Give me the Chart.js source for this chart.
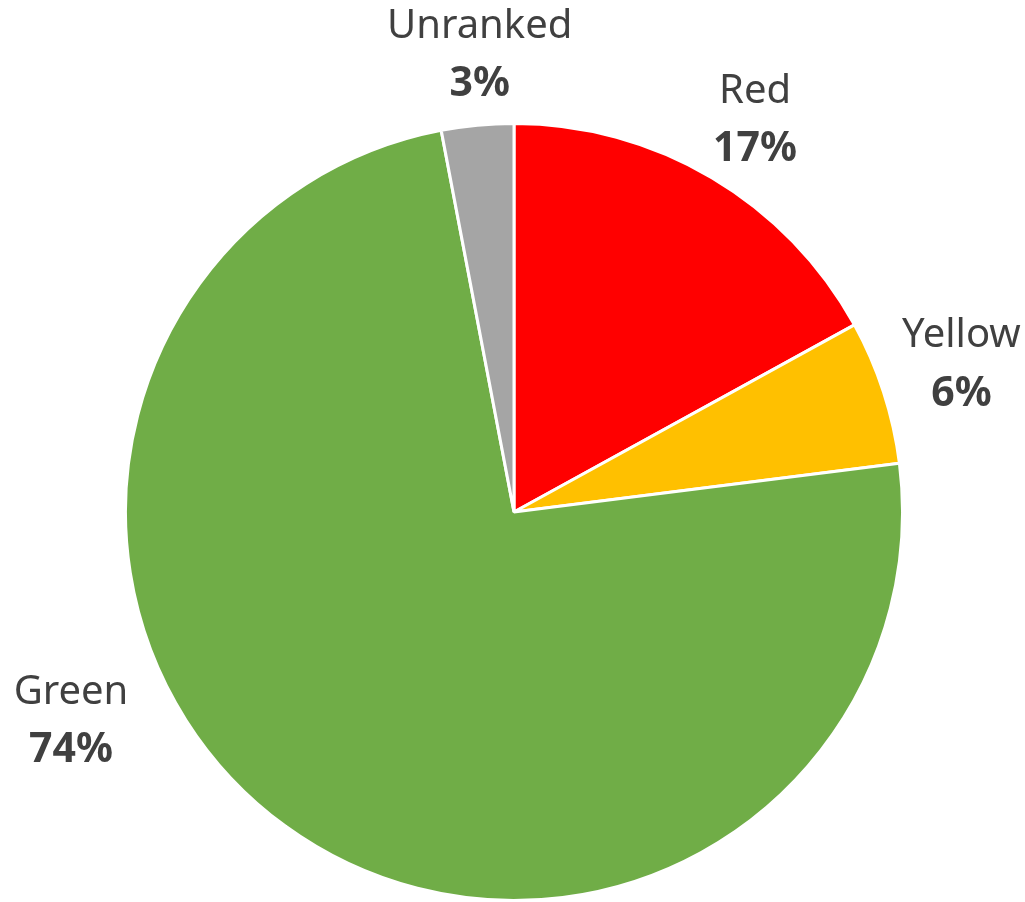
<!DOCTYPE html>
<html>
<head>
<meta charset="utf-8">
<script src="https://cdn.jsdelivr.net/npm/chart.js@4"></script>
<style>
  html, body { margin: 0; padding: 0; background: #fff; }
  #wrap { width: 1025px; height: 902px; }
</style>
</head>
<body>
<div id="wrap"><canvas id="myChart"></canvas></div>
<script>
var categories = ['Red', 'Yellow', 'Green', 'Unranked'];
var shares = [17, 6, 74, 3];
var sliceColors = ['#FF0000', '#FFC000', '#70AD47', '#A5A5A5'];

// where each label block sits: angle clockwise from 12 o'clock, distance from centre
var labelSpots = [[31.6, 460], [71.8, 471], [244.7, 490], [-4.3, 458]];

var outsideLabels = {
    id: 'outsideLabels',
    afterDraw: function (chart) {
        var ctx = chart.ctx;
        var arc = chart.getDatasetMeta(0).data[0];
        var cx = arc.x, cy = arc.y;
        ctx.save();
        ctx.textAlign = 'center';
        ctx.textBaseline = 'middle';
        ctx.fillStyle = '#404040';
        chart.data.labels.forEach(function (name, i) {
            var a = labelSpots[i][0] * Math.PI / 180;
            var d = labelSpots[i][1];
            var x = cx + Math.sin(a) * d;
            var y = cy - Math.cos(a) * d;
            ctx.font = '40px "Noto Sans"';
            ctx.fillText(name, x, y - 29);
            ctx.font = 'bold 41px "Noto Sans"';
            ctx.fillText(chart.data.datasets[0].data[i] + '%', x, y + 29);
        });
        ctx.restore();
    }
};

var ctx = document.getElementById('myChart').getContext('2d');
var myChart = new Chart(ctx, {
    type: 'pie',
    data: {
        labels: categories,
        datasets: [{
            data: shares,
            backgroundColor: sliceColors,
            borderColor: '#FFFFFF',
            borderWidth: 3
        }]
    },
    options: {
        responsive: true,
        maintainAspectRatio: false,
        animation: false,
        layout: {
            padding: { left: 120, right: 117, top: 122, bottom: 0 }
        },
        plugins: {
            legend: { display: false },
            tooltip: { enabled: false }
        }
    },
    plugins: [outsideLabels]
});
</script>
</body>
</html>
